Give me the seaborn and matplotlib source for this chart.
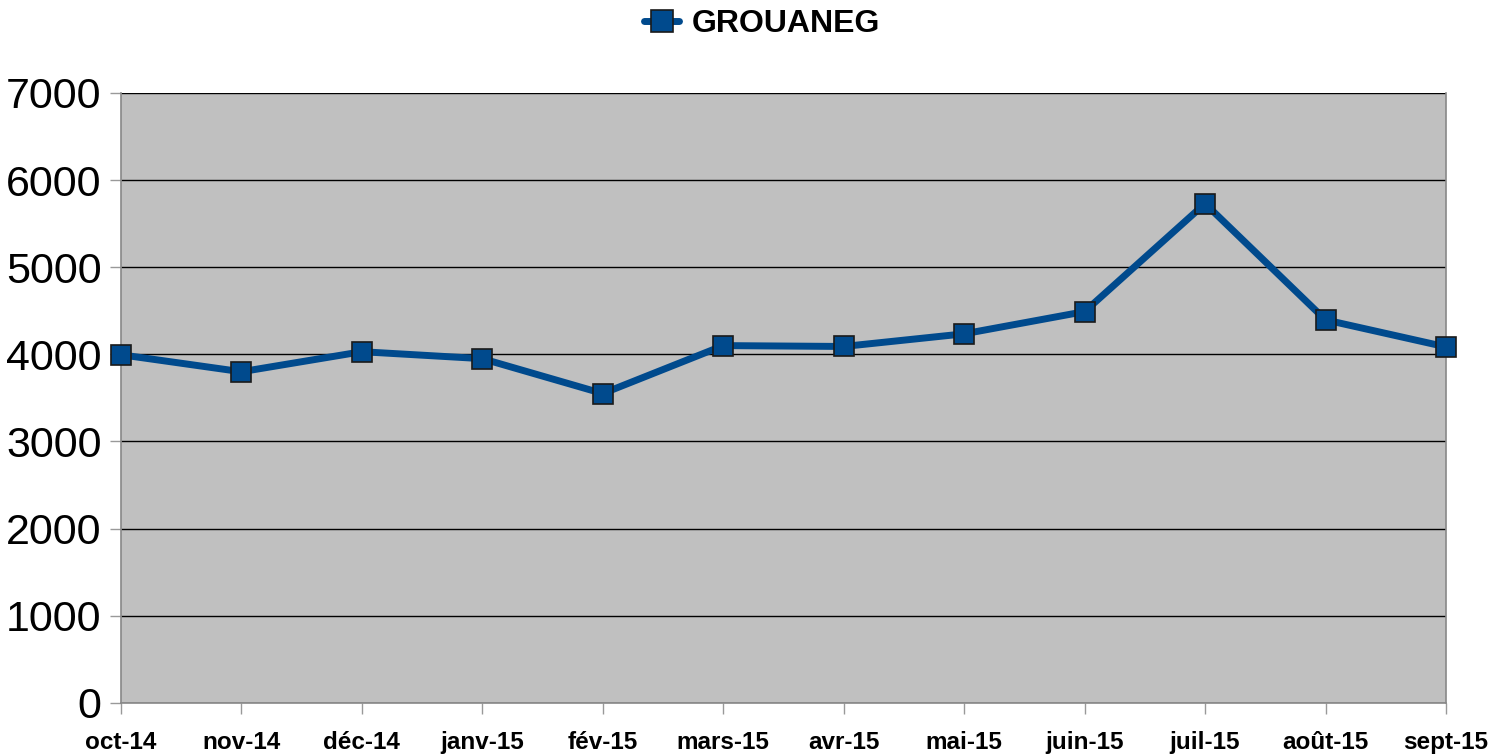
import pandas as pd
import matplotlib.pyplot as plt
import seaborn as sns

months = ["oct-14", "nov-14", "déc-14", "janv-15", "fév-15", "mars-15",
          "avr-15", "mai-15", "juin-15", "juil-15", "août-15", "sept-15"]
values = [3995, 3800, 4030, 3950, 3550, 4100, 4090, 4235, 4490, 5730, 4395, 4085]
series_name = "GROUANEG"

df = pd.DataFrame({"pos": range(len(months)), "value": values, "serie": series_name})

sns.set_style("white")
plt.rcParams["font.family"] = ["Liberation Sans", "DejaVu Sans"]
plt.rcParams["text.color"] = "black"
plt.rcParams["xtick.labelcolor"] = "black"
plt.rcParams["ytick.labelcolor"] = "black"

fig = plt.figure(figsize=(14.93, 7.55), dpi=100)
ax = fig.add_axes([0.081, 0.069, 0.8875, 0.808])
ax.set_facecolor("#c0c0c0")

color = "#004a8d"
sns.lineplot(data=df, x="pos", y="value", hue="serie", palette=[color],
             marker="s", markersize=14, markeredgecolor="#1a1a1a",
             markeredgewidth=1.2, linewidth=5, ax=ax, clip_on=False, zorder=5)

ax.set_xlim(0, len(months) - 1)
ax.set_ylim(0, 7000)
ax.set_yticks(range(0, 7001, 1000))
ax.set_xticks(range(len(months)))
ax.set_xticklabels(months, fontsize=17.5, fontweight="bold")
ax.tick_params(axis="y", labelsize=31, length=8, color="#999999", width=1, pad=6,
               direction="out", left=True)
ax.tick_params(axis="x", length=8, color="#999999", width=1, pad=12,
               direction="out", bottom=True)
ax.yaxis.grid(True, color="black", linewidth=1)
ax.set_axisbelow(True)
ax.set_xlabel("")
ax.set_ylabel("")

for side in ["left", "bottom", "right"]:
    ax.spines[side].set_color("#888888")
    ax.spines[side].set_linewidth(1.2)
ax.spines["top"].set_visible(False)

leg = ax.legend(loc="upper center", bbox_to_anchor=(0.484, 1.185), frameon=False,
                prop={"size": 23, "weight": "bold"}, handlelength=1.1,
                handletextpad=0.4, markerscale=1.15)

fig.savefig("out.png", dpi=100)
